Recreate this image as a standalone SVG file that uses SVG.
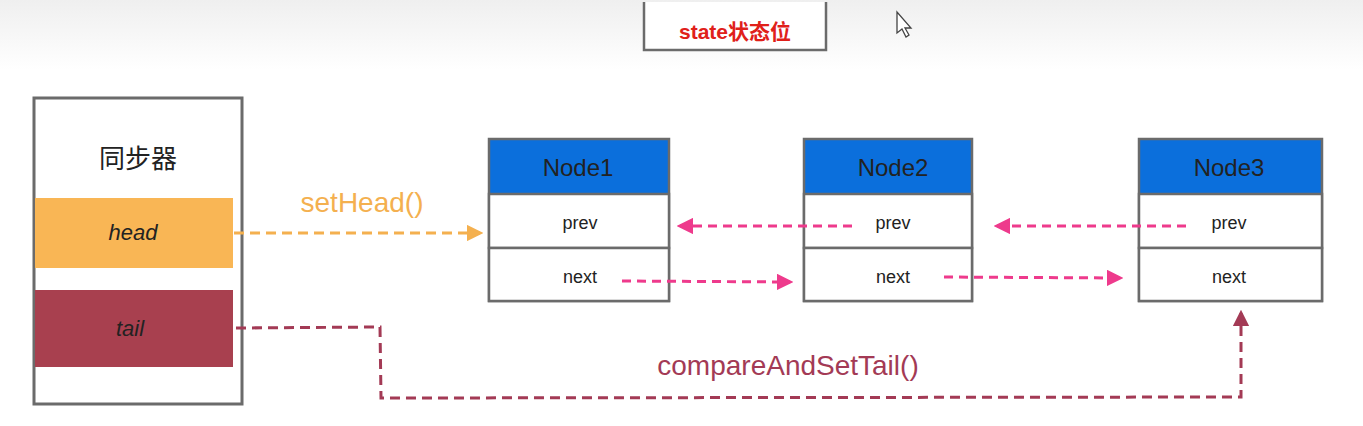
<svg xmlns="http://www.w3.org/2000/svg" width="1363" height="426" viewBox="0 0 1363 426">
<defs>
<linearGradient id="bg" x1="0" y1="0" x2="0" y2="1">
<stop offset="0" stop-color="#efefef"/><stop offset="1" stop-color="#ffffff"/>
</linearGradient>
<marker id="aO" viewBox="0 0 10 10" refX="8" refY="5" markerWidth="5.5" markerHeight="5.5" orient="auto"><path d="M0,0 L10,5 L0,10 Z" fill="#f4b04f"/></marker>
<marker id="aP" viewBox="0 0 10 10" refX="8" refY="5" markerWidth="5.5" markerHeight="5.5" orient="auto"><path d="M0,0 L10,5 L0,10 Z" fill="#ee3a8c"/></marker>
<marker id="aR" viewBox="0 0 10 10" refX="8" refY="5" markerWidth="5.5" markerHeight="5.5" orient="auto"><path d="M0,0 L10,5 L0,10 Z" fill="#a33a55"/></marker>
</defs>
<style>
.box{fill:#fff;stroke:#6b6b6b;stroke-width:3}
.hdr{fill:#0b6fdc}
.row{fill:#fff;stroke:#6b6b6b;stroke-width:2.5}
.t{font-family:"Liberation Sans","Noto Sans CJK SC",sans-serif;fill:#222;text-anchor:middle}
.nt{font-size:24px}
.ft{font-size:18px}
.pk{fill:none;stroke:#ee3a8c;stroke-width:3;stroke-dasharray:9 6;marker-end:url(#aP)}
</style>
<rect x="0" y="0" width="1363" height="426" fill="#fff"/>
<rect x="0" y="0" width="1363" height="70" fill="url(#bg)"/>

<g id="state">
<path d="M644,2 L644,50 L826,50 L826,2" fill="#fff" stroke="#6b6b6b" stroke-width="2.5"/>
<text x="735" y="39" class="t" style="font-size:21px;font-weight:bold;fill:#e0201a">state状态位</text>
</g>
<path d="M897,12 L897,33 L902,29 L906,37 L909,35 L905,28 L911,28 Z" fill="#fff" stroke="#444" stroke-width="1.3"/>

<g id="sync">
<rect x="34" y="98" width="208" height="306" class="box"/>
<text x="138" y="168" class="t" style="font-size:26px">同步器</text>
<rect x="35" y="198" width="198" height="70" fill="#f9b655"/>
<text x="133" y="240" class="t" style="font-size:22px;font-style:italic">head</text>
<rect x="35" y="290" width="198" height="77" fill="#a8404f"/>
<text x="130" y="336" class="t" style="font-size:22px;font-style:italic">tail</text>
</g>

<g id="node1">
<rect x="489" y="139" width="180" height="55" class="hdr"/>
<rect x="489" y="139" width="180" height="162" fill="none" stroke="#6b6b6b" stroke-width="2.5"/>
<rect x="489" y="194" width="180" height="54" class="row"/>
<rect x="489" y="248" width="180" height="53" class="row"/>
<text x="578" y="176" class="t nt">Node1</text>
<text x="580" y="229" class="t ft">prev</text>
<text x="580" y="283" class="t ft">next</text>
</g>
<g id="node2">
<rect x="804" y="139" width="168" height="55" class="hdr"/>
<rect x="804" y="139" width="168" height="162" fill="none" stroke="#6b6b6b" stroke-width="2.5"/>
<rect x="804" y="194" width="168" height="54" class="row"/>
<rect x="804" y="248" width="168" height="53" class="row"/>
<text x="893" y="176" class="t nt">Node2</text>
<text x="893" y="229" class="t ft">prev</text>
<text x="893" y="283" class="t ft">next</text>
</g>
<g id="node3">
<rect x="1139" y="139" width="183" height="55" class="hdr"/>
<rect x="1139" y="139" width="183" height="162" fill="none" stroke="#6b6b6b" stroke-width="2.5"/>
<rect x="1139" y="194" width="183" height="54" class="row"/>
<rect x="1139" y="248" width="183" height="53" class="row"/>
<text x="1229" y="176" class="t nt">Node3</text>
<text x="1229" y="229" class="t ft">prev</text>
<text x="1229" y="283" class="t ft">next</text>
</g>

<g id="connectors">
<path d="M234,233 L480,233" fill="none" stroke="#f4b04f" stroke-width="3" stroke-dasharray="10 6" marker-end="url(#aO)"/>
<text x="362" y="212" class="t" style="font-size:28px;fill:#f4b04f">setHead()</text>
<path d="M852,226 L680,226" class="pk"/>
<path d="M1186,226 L997,226" class="pk"/>
<path d="M622,281 L790,282" class="pk"/>
<path d="M944,277 L1120,278" class="pk"/>
<path d="M236,328 L380,327 L381,398 L1241,397 L1241,313" fill="none" stroke="#a33a55" stroke-width="3" stroke-dasharray="10 6" marker-end="url(#aR)"/>
<text x="788" y="375" class="t" style="font-size:28px;fill:#a33a55">compareAndSetTail()</text>
</g>
</svg>
